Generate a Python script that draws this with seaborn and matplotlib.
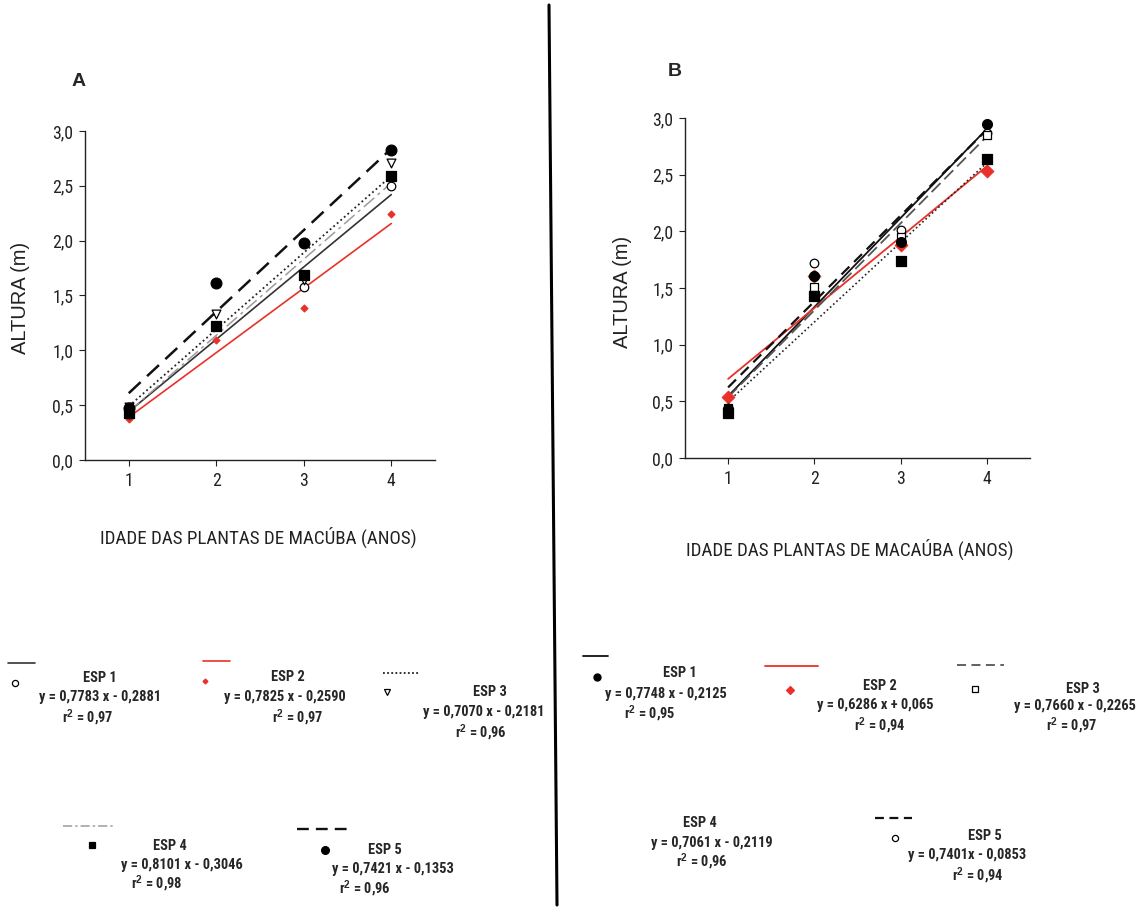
import numpy as np
import pandas as pd
import matplotlib
matplotlib.use("Agg")
import matplotlib.pyplot as plt
import seaborn as sns
from matplotlib.lines import Line2D
from matplotlib import font_manager as fm

# ---------------- data ----------------
idade = [1, 2, 3, 4]
especies = ["ESP 1", "ESP 2", "ESP 3", "ESP 4", "ESP 5"]

# Panel A (altura, m)
a_esp1 = [0.42, 1.22, 1.58, 2.50]
a_esp2 = [0.376, 1.09, 1.386, 2.24]
a_esp3 = [0.48, 1.33, 1.64, 2.71]
a_esp4 = [0.43, 1.225, 1.69, 2.59]
a_esp5 = [0.476, 1.61, 1.98, 2.83]

# Panel B (altura, m)
b_esp1 = [0.43, 1.61, 1.91, 2.95]
b_esp2 = [0.535, 1.605, 1.876, 2.53]
b_esp3 = [0.44, 1.51, 1.95, 2.85]
b_esp4 = [0.40, 1.43, 1.735, 2.64]
b_esp5 = [0.44, 1.72, 2.01, 2.87]

a_eq = ["y = 0,7783 x - 0,2881", "y = 0,7825 x - 0,2590", "y = 0,7070 x - 0,2181",
        "y = 0,8101 x - 0,3046", "y = 0,7421 x - 0,1353"]
a_r2 = ["0,97", "0,97", "0,96", "0,98", "0,96"]
b_eq = ["y = 0,7748 x - 0,2125", "y = 0,6286 x + 0,065", "y = 0,7660 x - 0,2265",
        "y = 0,7061 x - 0,2119", "y = 0,7401x - 0,0853"]
b_r2 = ["0,95", "0,94", "0,97", "0,96", "0,94"]

y_ticks = [0.0, 0.5, 1.0, 1.5, 2.0, 2.5, 3.0]

# ---------------- style ----------------
sns.set_theme(style="ticks")
plt.rcParams["font.family"] = ["Liberation Sans", "DejaVu Sans"]
plt.rcParams["mathtext.fontset"] = "custom"
plt.rcParams["mathtext.rm"] = "Liberation Sans"
plt.rcParams["mathtext.bf"] = "Liberation Sans:bold"


def _stretch_val(s):
    table = {"ultra-condensed": 100, "extra-condensed": 200, "condensed": 300,
             "semi-condensed": 400, "normal": 500}
    if isinstance(s, (int, float)):
        return s
    return table.get(str(s), 500)


def find_narrow(bold):
    entries = fm.fontManager.ttflist
    want_w = 700 if bold else 400

    def wnum(f):
        try:
            return int(f.weight)
        except Exception:
            return {"bold": 700, "normal": 400, "regular": 400}.get(str(f.weight), 400)

    for pref in ["Liberation Sans Narrow", "Arial Narrow", "Roboto Condensed",
                 "Open Sans Condensed", "Noto Sans Condensed"]:
        c = [f for f in entries if f.name == pref and f.style == "normal"]
        if c:
            c.sort(key=lambda f: abs(wnum(f) - want_w))
            return fm.FontProperties(fname=c[0].fname)
    c = [f for f in entries if f.name in ("Noto Sans", "Roboto", "Open Sans", "Lato", "Inter")
         and f.style == "normal" and _stretch_val(f.stretch) in (300, 400)]
    if c:
        c.sort(key=lambda f: (abs(_stretch_val(f.stretch) - 300), abs(wnum(f) - want_w)))
        return fm.FontProperties(fname=c[0].fname)
    return fm.FontProperties(family="Liberation Sans", weight="bold" if bold else "normal")


FP_REG = find_narrow(False)
FP_BOLD = find_narrow(True)

W, H = 1144, 910
fig = plt.figure(figsize=(W / 100, H / 100), dpi=100)
fig.patch.set_facecolor("white")
renderer = fig.canvas.get_renderer()


def fitted(fp, sample, target_px):
    p = fp.copy()
    p.set_size(10)
    w, _, _ = renderer.get_text_width_height_descent(sample, p, ismath=False)
    q = fp.copy()
    q.set_size(10 * target_px / w)
    return q


def fx(x):
    return x / W


def fy(y):
    return 1 - y / H


RED = "#e8312a"

# style per species: (line color, linestyle, lw, marker, size, face, edge)
styleA = [
    ("#333333", "-", 1.2, "o", 38, "white", "black"),
    (RED, "-", 1.2, "D", 12, RED, RED),
    ("#222222", (0, (1, 1.6)), 1.3, "v", 40, "white", "black"),
    ("#9c9c9c", (0, (9, 3, 2, 3)), 1.1, "s", 45, "black", "black"),
    ("#111111", (0, (6.5, 3.5)), 1.8, "o", 60, "black", "black"),
]
styleB = [
    ("#111111", "-", 1.3, "o", 50, "black", "black"),
    (RED, "-", 1.3, "D", 40, RED, RED),
    ("#555555", (0, (7, 3)), 1.3, "s", 35, "white", "black"),
    ("#222222", (0, (1, 1.6)), 1.2, "s", 45, "black", "black"),
    ("#111111", (0, (5, 3)), 1.6, "o", 38, "white", "black"),
]


def build_df(series):
    rows = []
    for name, vals in zip(especies, series):
        for x, y in zip(idade, vals):
            rows.append({"Idade": x, "Altura": y, "Especie": name})
    return pd.DataFrame(rows)


dfA = build_df([a_esp1, a_esp2, a_esp3, a_esp4, a_esp5])
dfB = build_df([b_esp1, b_esp2, b_esp3, b_esp4, b_esp5])

tick_fp = fitted(FP_REG, "3,0", 21)


def draw_panel(ax, df, styles, order):
    for name, st in zip(especies, styles):
        sub = df[df["Especie"] == name]
        sns.regplot(data=sub, x="Idade", y="Altura", ax=ax, scatter=False, ci=None,
                    truncate=True,
                    line_kws=dict(color=st[0], linestyle=st[1], linewidth=st[2]))
    for i in order:
        name, st = especies[i], styles[i]
        sub = df[df["Especie"] == name]
        sns.scatterplot(data=sub, x="Idade", y="Altura", ax=ax, marker=st[3], s=st[4],
                        facecolor=st[5], edgecolor=st[6], linewidth=0.9,
                        zorder=5, clip_on=False, legend=False)
    ax.set_xlim(0.5, 4.5)
    ax.set_ylim(0, 3.0)
    ax.set_xticks(idade)
    ax.set_xticklabels([str(v) for v in idade])
    ax.set_yticks(y_ticks)
    ax.set_yticklabels([f"{v:.1f}".replace(".", ",") for v in y_ticks])
    ax.tick_params(direction="out", length=4.5, width=0.8, pad=4, colors="#222222")
    for lab in ax.get_xticklabels() + ax.get_yticklabels():
        lab.set_fontproperties(tick_fp)
    sns.despine(ax=ax)
    for sp in ("left", "bottom"):
        ax.spines[sp].set_linewidth(1.0)
        ax.spines[sp].set_color("#222222")
    ax.set_facecolor("white")


axA = fig.add_axes([fx(85), fy(460), 350 / W, 329 / H])
axB = fig.add_axes([fx(685), fy(458), 345 / W, 340 / H])
draw_panel(axA, dfA, styleA, [1, 0, 2, 3, 4])
draw_panel(axB, dfB, styleB, [1, 4, 2, 0, 3])

xl_fp = fitted(FP_REG, "IDADE DAS PLANTAS DE MACÚBA (ANOS)", 317)
for ax, xl, xc, yc, lx, ly in [
    (axA, "IDADE DAS PLANTAS DE MACÚBA (ANOS)", 258, 537, 20, 298),
    (axB, "IDADE DAS PLANTAS DE MACAÚBA (ANOS)", 850, 549, 622, 292),
]:
    pos = ax.get_position()
    ax.set_xlabel(xl, fontproperties=xl_fp, va="center", ha="center", color="#222222")
    ax.xaxis.set_label_coords((fx(xc) - pos.x0) / pos.width, (fy(yc) - pos.y0) / pos.height)
    ax.set_ylabel("ALTURA (m)", fontsize=14.5, family=["Liberation Sans", "DejaVu Sans"],
                  va="center", ha="center", color="#222222")
    ax.yaxis.set_label_coords((fx(lx) - pos.x0) / pos.width, (fy(ly) - pos.y0) / pos.height)

fig.text(fx(79), fy(81), "A", fontsize=14, fontweight="bold",
         family=["Liberation Sans", "DejaVu Sans"], ha="center", va="center")
fig.text(fx(675), fy(72), "B", fontsize=14, fontweight="bold",
         family=["Liberation Sans", "DejaVu Sans"], ha="center", va="center")

# separator
fig.add_artist(Line2D([fx(549), fx(557)], [fy(5), fy(905)], color="black", lw=2.2,
                      transform=fig.transFigure))

# ---------------- legends ----------------
# (line x0, x1, line y, marker x, marker y, title xy, eq xy, r2 xy)
layoutA = [
    (8, 35, 663, 15, 683, (100, 678), (100, 697), (88, 718)),
    (203, 230, 661, 205, 681, (288, 677), (285, 697), (298, 718)),
    (383, 420, 673, 387, 692, (490, 692), (484, 712), (481, 733)),
    (63, 115, 826, 92, 845, (170, 846), (182, 865), (157, 884)),
    (297, 348, 829, 325, 850, (385, 850), (393, 869), (365, 889)),
]
layoutB = [
    (583, 608, 656, 597, 677, (680, 673), (666, 694), (650, 714)),
    (765, 818, 666, 790, 690, (880, 686), (875, 705), (880, 726)),
    (957, 1004, 665, 975, 689, (1083, 689), (1075, 706), (1072, 726)),
    (None, None, None, None, None, (700, 823), (712, 843), (702, 862)),
    (875, 912, 818, 895, 838, (985, 836), (967, 855), (978, 876)),
]
legend_dashes_A = ["-", "-", (0, (1, 1.3)), (0, (6, 2, 1.5, 2)), (0, (5, 3))]
legend_dashes_B = ["-", "-", (0, (5, 3)), None, (0, (4, 2.5))]

leg_fp = fitted(FP_BOLD, "y = 0,7783 x - 0,2881", 122)


def draw_legend(layout, styles, eqs, r2s, dashes):
    for (lx0, lx1, ly, mx, my, tt, te, tr), st, name, eq, r2, ds in zip(
            layout, styles, especies, eqs, r2s, dashes):
        if lx0 is not None and ds is not None:
            fig.add_artist(Line2D([fx(lx0), fx(lx1)], [fy(ly), fy(ly)], color=st[0],
                                  linestyle=ds, lw=min(st[2], 1.7),
                                  transform=fig.transFigure))
        if mx is not None:
            fig.add_artist(Line2D([fx(mx)], [fy(my)], marker=st[3], linestyle="none",
                                  markersize=np.sqrt(st[4]) * 0.72,
                                  markerfacecolor=st[5], markeredgecolor=st[6],
                                  markeredgewidth=0.9, transform=fig.transFigure))
        fig.text(fx(tt[0]), fy(tt[1]), name, fontproperties=leg_fp,
                 ha="center", va="center")
        fig.text(fx(te[0]), fy(te[1]), eq, fontproperties=leg_fp,
                 ha="center", va="center")
        fig.text(fx(tr[0]), fy(tr[1]), r"r$^{\mathbf{2}}$ = " + r2, fontproperties=leg_fp,
                 ha="center", va="center")


draw_legend(layoutA, styleA, a_eq, a_r2, legend_dashes_A)
draw_legend(layoutB, styleB, b_eq, b_r2, legend_dashes_B)

fig.savefig("out.png", dpi=100, facecolor="white")
